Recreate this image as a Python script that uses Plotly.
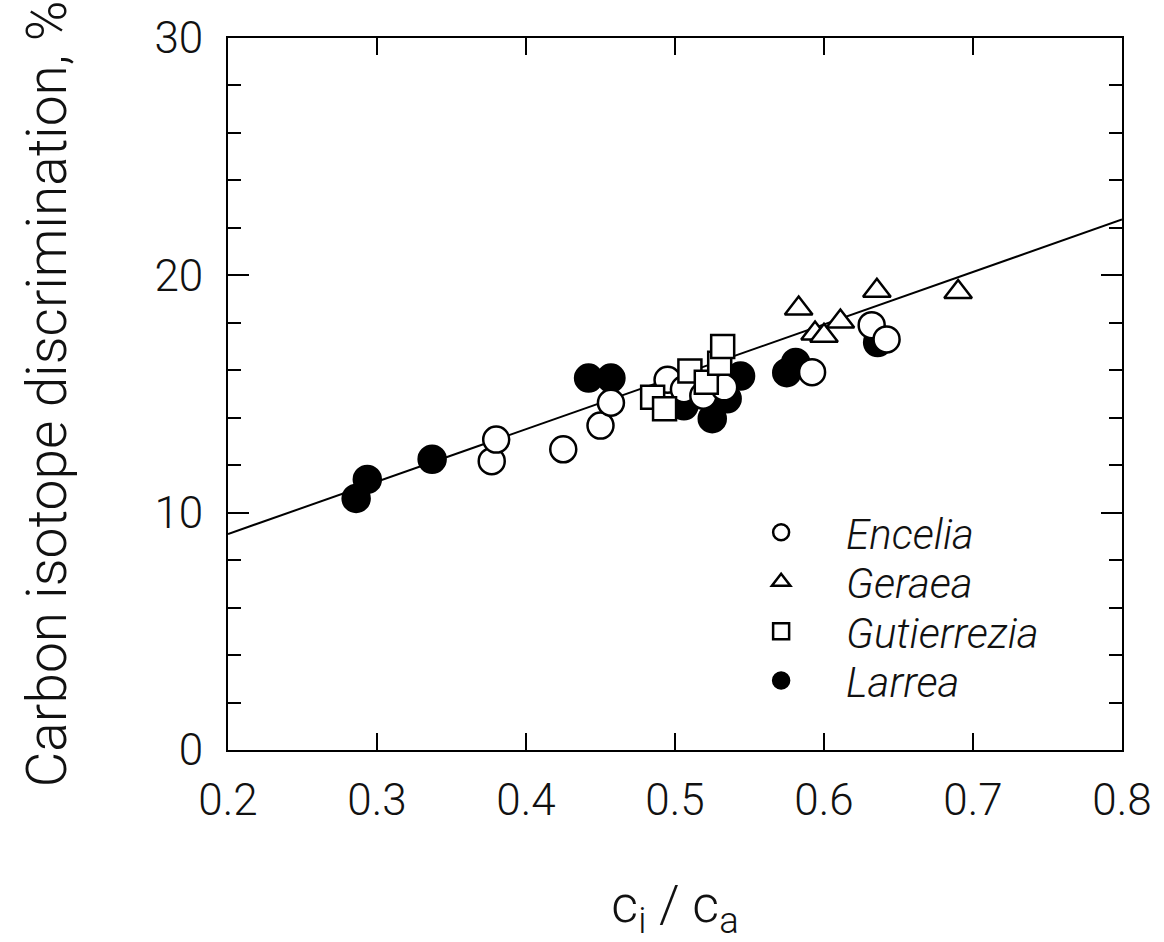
import plotly.graph_objects as go

# ---- data ----
encelia_x = [0.377, 0.380, 0.425, 0.450, 0.457, 0.495, 0.506, 0.519, 0.533, 0.592, 0.632, 0.642]
encelia_y = [12.17, 13.08, 12.67, 13.67, 14.63, 15.6, 15.2, 14.93, 15.28, 15.92, 17.9, 17.3]

geraea_x = [0.583, 0.594, 0.600, 0.611, 0.6355, 0.690]
geraea_y = [18.6, 17.55, 17.45, 18.05, 19.35, 19.3]

gutierrezia_x = [0.485, 0.493, 0.510, 0.521, 0.530, 0.532]
gutierrezia_y = [14.86, 14.38, 15.97, 15.49, 16.3, 17.0]

larrea_x = [0.286, 0.2935, 0.337, 0.442, 0.457, 0.506, 0.525, 0.535, 0.544, 0.575, 0.581, 0.636]
larrea_y = [10.6, 11.4, 12.25, 15.67, 15.67, 14.5, 13.96, 14.8, 15.76, 15.9, 16.33, 17.17]

fit_x = [0.2, 0.8]
fit_y = [9.1, 22.35]

x_ticks = [0.2, 0.3, 0.4, 0.5, 0.6, 0.7, 0.8]
y_ticks = [0, 10, 20, 30]

FONT = "Roboto"
WEIGHT = 300
TXT = "#111111"

fig = go.Figure()

fig.add_trace(go.Scatter(x=fit_x, y=fit_y, mode="lines",
                         line=dict(color="black", width=2), showlegend=False,
                         hoverinfo="skip"))

outline = dict(color="black", width=2.5)

fig.add_trace(go.Scatter(x=larrea_x, y=larrea_y, mode="markers", name="Larrea",
                         legend="legend4",
                         marker=dict(symbol="circle", size=27, color="black", line=outline)))
fig.add_trace(go.Scatter(x=encelia_x, y=encelia_y, mode="markers", name="Encelia",
                         legend="legend",
                         marker=dict(symbol="circle", size=26, color="white", line=outline)))
fig.add_trace(go.Scatter(x=gutierrezia_x, y=gutierrezia_y, mode="markers", name="Gutierrezia",
                         legend="legend3",
                         marker=dict(symbol="square", size=23, color="white", line=outline)))
fig.add_trace(go.Scatter(x=geraea_x, y=geraea_y, mode="markers", name="Geraea",
                         legend="legend2",
                         marker=dict(symbol="triangle-up", size=24, color="white", line=outline)))

tickfont = dict(family=FONT, size=44, color=TXT, weight=WEIGHT)
axis_common = dict(showline=True, linecolor="black", linewidth=2, mirror="ticks",
                   ticks="inside", tickcolor="black", tickwidth=2,
                   showgrid=False, zeroline=False, tickfont=tickfont)

fig.update_xaxes(range=[0.2, 0.8], tickvals=x_ticks, ticktext=[f"{v:.1f}" for v in x_ticks],
                 ticklen=17, ticklabelstandoff=10,
                 title=dict(text="c<sub>i</sub> / c<sub>a</sub>",
                            font=dict(family=FONT, size=52, color=TXT, weight=WEIGHT),
                            standoff=62),
                 **axis_common)
fig.update_yaxes(range=[0, 30], tickvals=y_ticks, ticklen=21, ticklabelstandoff=14,
                 minor=dict(ticks="inside", ticklen=13, dtick=2, tickcolor="black",
                            tickwidth=2, showgrid=False),
                 title=dict(text="Carbon isotope discrimination, %",
                            font=dict(family=FONT, size=55, color=TXT, weight=WEIGHT),
                            standoff=70),
                 **axis_common)

leg_font = dict(family=FONT, size=42, style="italic", color=TXT, weight=WEIGHT)
def leg(yc):
    return dict(x=0.546, y=yc, xanchor="left", yanchor="middle",
                font=leg_font, bgcolor="rgba(0,0,0,0)", itemwidth=120)

# legend row centres in pixels -> paper units
fig.update_layout(
    width=1164, height=942,
    margin=dict(l=228, r=39, t=30, b=192),
    paper_bgcolor="white", plot_bgcolor="white",
    legend=leg((750 - 530) / 720),
    legend2=leg((750 - 580) / 720),
    legend3=leg((750 - 630) / 720),
    legend4=leg((750 - 680) / 720),
)

fig.write_html("out.html")
